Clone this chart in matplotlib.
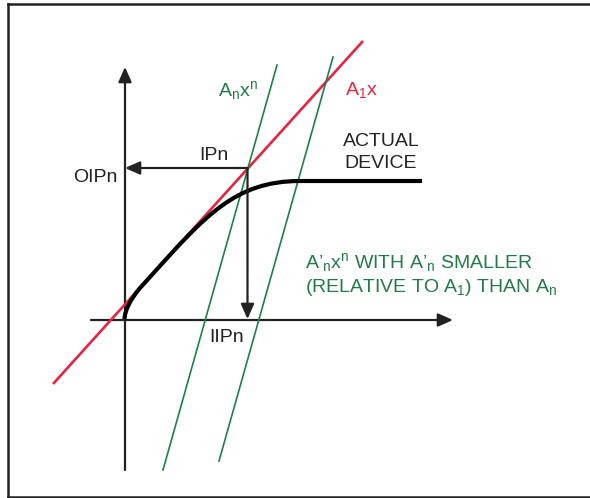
import matplotlib.pyplot as plt
from matplotlib.path import Path
from matplotlib.patches import PathPatch

plt.rcParams["font.family"] = ["Liberation Sans", "DejaVu Sans"]
plt.rcParams["mathtext.fontset"] = "custom"
plt.rcParams["mathtext.rm"] = "Liberation Sans"
plt.rcParams["mathtext.it"] = "Liberation Sans"

# diagram coordinates: origin where the two axes cross
x_axis = [-3.4, 32.8]
y_axis = [-15.0, 25.3]

# linear term A1x
red_x = [-7.2, 23.8]
red_y = [-6.4, 27.9]

# n-th order terms
green1_x = [3.8, 15.2]
green1_y = [-15.0, 25.5]
green2_x = [9.4, 20.8]
green2_y = [-14.1, 26.3]

# actual device response (compressing), bezier control points
device_x = [-0.05, 0.0, 0.5, 1.5, 2.5, 8.0, 11.0, 17.5, 29.7]
device_y = [0.1, 1.0, 2.0, 3.2, 4.3, 10.4, 13.9, 13.9, 13.9]
device_codes = [Path.MOVETO, Path.CURVE4, Path.CURVE4, Path.CURVE4,
                Path.LINETO, Path.CURVE4, Path.CURVE4, Path.CURVE4,
                Path.LINETO]

# intercept point
ip_x = 12.25
ip_y = 15.2

RED = "#e62440"
GREEN = "#1f7f4c"
TXT_GREEN = "#227a48"
DARK = "#222222"

fig = plt.figure(figsize=(5.9, 4.98), dpi=100)
ax = fig.add_axes([0, 0, 1, 1])
ax.set_xlim(-12.5, 46.5)
ax.set_ylim(-17.8, 32.0)
ax.set_axis_off()

# picture frame (open on the right)
frame = dict(color=DARK, lw=1.8, transform=ax.transAxes, clip_on=False)
ax.plot([7.5 / 590, 1], [1 - 4 / 498, 1 - 4 / 498], **frame)
ax.plot([7.5 / 590, 7.5 / 590], [1 - 4 / 498, 1.5 / 498], **frame)
ax.plot([7.5 / 590, 1], [1.5 / 498, 1.5 / 498], **frame)

arrow = dict(arrowstyle="-|>,head_length=0.45,head_width=0.2", color=DARK,
             lw=1.6, shrinkA=0, shrinkB=0, mutation_scale=20)

# axes
ax.annotate("", xy=(x_axis[1], 0), xytext=(x_axis[0], 0), arrowprops=arrow)
ax.annotate("", xy=(0, y_axis[1]), xytext=(0, y_axis[0]), arrowprops=arrow)

ax.plot(red_x, red_y, color=RED, lw=1.9, solid_capstyle="butt", zorder=3)
ax.plot(green1_x, green1_y, color=GREEN, lw=1.2, zorder=3)
ax.plot(green2_x, green2_y, color=GREEN, lw=1.2, zorder=3)

device = Path(list(zip(device_x, device_y)), device_codes)
ax.add_patch(PathPatch(device, facecolor="none", edgecolor="black", lw=3.0,
                       capstyle="butt", joinstyle="round", zorder=4))

# projections from the intercept point
ax.annotate("", xy=(0, ip_y), xytext=(ip_x, ip_y), arrowprops=arrow, zorder=5)
ax.annotate("", xy=(ip_x, 0.1), xytext=(ip_x, ip_y), arrowprops=arrow, zorder=5)

fs = 14
ax.text(-0.8, 14.3, "OIPn", ha="right", va="center", fontsize=fs, color=DARK)
ax.text(8.9, 16.5, "IPn", ha="center", va="center", fontsize=fs, color=DARK)
ax.text(10.15, -1.7, "IIPn", ha="center", va="center", fontsize=fs, color=DARK)
ax.text(21.8, 17.8, "ACTUAL", ha="left", va="center", fontsize=fs, color=DARK)
ax.text(21.9, 15.7, "DEVICE", ha="left", va="center", fontsize=fs, color=DARK)

ax.text(11.3, 23.0, r"A$_\mathrm{n}$x$^\mathrm{n}$", ha="center", va="center",
        fontsize=fs, color=TXT_GREEN)
ax.text(23.6, 23.0, r"A$_\mathrm{1}$x", ha="center", va="center",
        fontsize=fs, color=RED)

ax.text(18.0, 5.7, r"A’$_\mathrm{n}$x$^\mathrm{n}$ WITH A’$_\mathrm{n}$ SMALLER",
        ha="left", va="center", fontsize=fs, color=TXT_GREEN)
ax.text(18.0, 3.3, r"(RELATIVE TO A$_\mathrm{1}$) THAN A$_\mathrm{n}$",
        ha="left", va="center", fontsize=fs, color=TXT_GREEN)

fig.savefig("out.png", dpi=100)
